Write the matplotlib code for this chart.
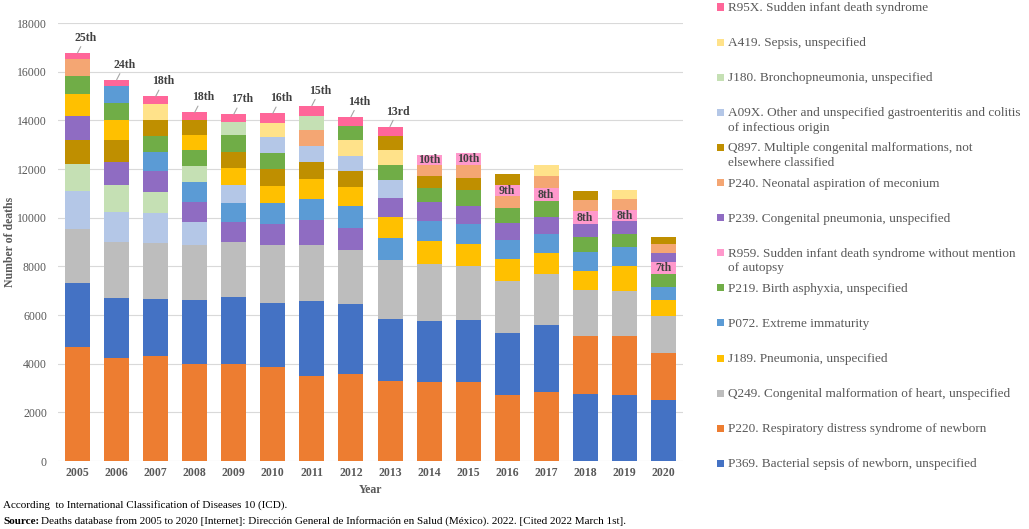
import matplotlib.pyplot as plt
from matplotlib.patches import Rectangle

plt.rcParams['font.family'] = ['Liberation Serif', 'DejaVu Serif']

years = [str(y) for y in range(2005, 2021)]

# deaths per cause and year (0 = not among the top causes that year)
P369 = [2630, 2465, 2355, 2600, 2755, 2615, 3055, 2870, 2575, 2495, 2545, 2565, 2770, 2765, 2700, 2490]
P220 = [4680, 4230, 4300, 4000, 3985, 3875, 3505, 3590, 3275, 3260, 3235, 2695, 2820, 2355, 2450, 1960]
Q249 = [2220, 2300, 2300, 2260, 2245, 2370, 2315, 2200, 2395, 2355, 2250, 2140, 2110, 1895, 1840, 1520]
J189 = [920, 795, 0, 625, 705, 710, 810, 795, 850, 930, 875, 890, 865, 810, 1040, 630]
P072 = [0, 705, 765, 795, 780, 865, 850, 880, 920, 820, 850, 810, 780, 780, 755, 550]
P219 = [740, 720, 685, 645, 670, 675, 0, 600, 645, 590, 645, 605, 645, 605, 560, 545]
R959 = [0, 0, 0, 0, 0, 0, 0, 0, 0, 445, 505, 465, 550, 505, 462, 465]
P239 = [975, 945, 860, 835, 850, 880, 1045, 930, 795, 770, 725, 685, 685, 545, 505, 385]
P240 = [685, 0, 0, 0, 0, 0, 655, 0, 0, 448, 510, 490, 505, 450, 456, 355]
Q897 = [1015, 920, 655, 600, 675, 680, 700, 645, 590, 480, 520, 450, 0, 400, 0, 300]
A09X = [1550, 1245, 1235, 960, 720, 645, 685, 640, 725, 0, 0, 0, 0, 0, 0, 0]
J180 = [1110, 1095, 870, 680, 535, 0, 575, 0, 0, 0, 0, 0, 0, 0, 0, 0]
A419 = [0, 0, 645, 0, 0, 590, 0, 630, 605, 0, 0, 0, 440, 0, 370, 0]
R95X = [250, 245, 315, 330, 330, 385, 410, 370, 370, 0, 0, 0, 0, 0, 0, 0]

# rank of the sudden infant death cause in each year
sids_rank = ['25th', '24th', '18th', '18th', '17th', '16th', '15th', '14th', '13rd',
             '10th', '10th', '9th', '8th', '8th', '8th', '7th']

# legend order (top to bottom)
causes = [
    ('R95X. Sudden infant death syndrome', '#FF6699', R95X),
    ('A419. Sepsis, unspecified', '#FFE28A', A419),
    ('J180. Bronchopneumonia, unspecified', '#C5E0B4', J180),
    ('A09X. Other and unspecified gastroenteritis and colitis\nof infectious origin', '#B4C7E7', A09X),
    ('Q897. Multiple congenital malformations, not\nelsewhere classified', '#BF8F00', Q897),
    ('P240. Neonatal aspiration of meconium', '#F4A673', P240),
    ('P239. Congenital pneumonia, unspecified', '#8F6CC2', P239),
    ('R959. Sudden infant death syndrome without mention\nof autopsy', '#FF99CC', R959),
    ('P219. Birth asphyxia, unspecified', '#70AD47', P219),
    ('P072. Extreme immaturity', '#5B9BD5', P072),
    ('J189. Pneumonia, unspecified', '#FFC000', J189),
    ('Q249. Congenital malformation of heart, unspecified', '#BDBDBD', Q249),
    ('P220. Respiratory distress syndrome of newborn', '#ED7D31', P220),
    ('P369. Bacterial sepsis of newborn, unspecified', '#4472C4', P369),
]

grey = '#595959'
fig = plt.figure(figsize=(10.29, 5.29), dpi=100)
ax = fig.add_axes([0.0564, 0.1285, 0.6073, 0.828])

for i in range(len(years)):
    segs = [(c[2][i], c) for c in causes if c[2][i] > 0]
    segs.sort(key=lambda t: -t[0])
    bottom = 0
    sids_seg = None
    for v, c in segs:
        ax.bar(i, v, bottom=bottom, width=0.64, color=c[1], linewidth=0, zorder=3)
        if c[2] is R959:
            sids_seg = (bottom, v)
        bottom += v
    if sids_seg is None:
        ax.annotate(sids_rank[i], xy=(i, bottom), xytext=(8, 15), textcoords='offset pixels',
                    ha='center', va='center', fontsize=8.5, fontweight='bold', color='#404040',
                    arrowprops=dict(arrowstyle='-', color='#A6A6A6', lw=0.8,
                                    shrinkA=0, shrinkB=0, relpos=(0.35, 0)))
    else:
        ax.text(i, sids_seg[0] + sids_seg[1] / 2, sids_rank[i], ha='center', va='center',
                fontsize=8.5, fontweight='bold', color='#404040', zorder=4)

ax.set_xlim(-0.5, len(years) - 0.5)
ax.set_ylim(0, 18000)
ax.set_yticks(range(0, 18001, 2000))
ax.set_xticks(range(len(years)))
ax.set_xticklabels(years, fontweight='bold')
ax.tick_params(axis='both', length=0, colors=grey, labelsize=8.5)
ax.tick_params(axis='y', pad=8)
ax.tick_params(axis='x', pad=4)
ax.grid(axis='y', color='#D9D9D9', lw=0.8, zorder=0)
for s in ax.spines.values():
    s.set_visible(False)
ax.set_ylabel('Number of deaths', fontsize=8.5, fontweight='bold', color=grey, labelpad=1)
ax.set_xlabel('Year', fontsize=8.5, fontweight='bold', color=grey, labelpad=4)

# legend on the right, constant pitch as in the source
top_px, pitch = 7, 35.1
W, H = 1029, 529
for k, (label, color, _) in enumerate(causes):
    yc = top_px + k * pitch
    fig.patches.append(Rectangle((717 / W, 1 - (yc + 3.5) / H), 7 / W, 7 / H,
                                 transform=fig.transFigure, color=color, lw=0))
    fig.text(728 / W, 1 - (yc - 5) / H, label, ha='left', va='top', fontsize=9.5,
             color=grey, linespacing=1.3)

fig.text(3 / W, 1 - 508 / H, 'According  to International Classification of Diseases 10 (ICD).',
         fontsize=8, va='baseline', ha='left')
src = fig.text(3 / W, 1 - 524 / H, 'Source:', fontsize=8, fontweight='bold', va='baseline', ha='left')
r = fig.canvas.get_renderer()
bb = src.get_window_extent(renderer=r)
fig.text(bb.x1 / W + 2 / W, 1 - 524 / H,
         'Deaths database from 2005 to 2020 [Internet]: Dirección General de Información en Salud (México). 2022. [Cited 2022 March 1st].',
         fontsize=8, va='baseline', ha='left')

fig.savefig('out.png', dpi=100)
